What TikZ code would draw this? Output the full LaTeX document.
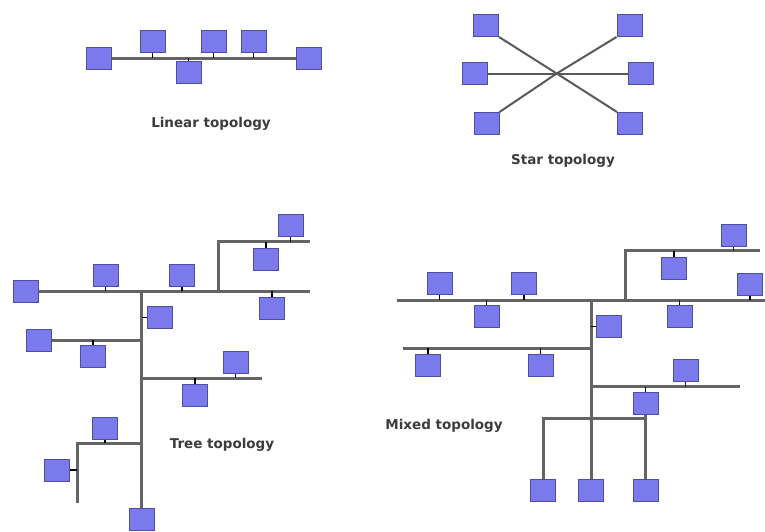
\documentclass[tikz,border=0pt]{standalone}
\usepackage{fontspec}
\setsansfont{DejaVu Sans}
\definecolor{boxfill}{RGB}{122,122,236}
\definecolor{boxedge}{RGB}{78,78,160}
\definecolor{buscol}{RGB}{100,100,100}
\definecolor{textcol}{RGB}{60,60,60}
\tikzset{line cap=butt,
  pc/.style={rectangle,draw=boxedge,fill=boxfill,line width=1pt,minimum width=25pt,minimum height=22pt,inner sep=0pt},
  bus/.style={draw=buscol,line width=3pt},
  stub/.style={draw=black,line width=1.2pt},
  spoke/.style={draw=buscol!90!black,line width=2pt},
  caption/.style={font=\sffamily\bfseries\fontsize{13.5}{15}\selectfont,text=textcol,inner sep=0pt}}

\begin{document}
\begin{tikzpicture}[x=1pt,y=-1pt]
  \useasboundingbox[fill=white] (0,0) rectangle (765,531);

  % Linear topology
  \node[pc] (la) at (98.5,58) {};
  \node[pc] (lb) at (152.5,41.5) {};
  \node[pc] (lc) at (188.5,72.5) {};
  \node[pc] (ld) at (213.5,41.5) {};
  \node[pc] (le) at (253.5,41.5) {};
  \node[pc] (lf) at (309,58) {};
  \draw[bus] (la.east) -- (lf.west);
  \foreach \n in {lb,ld,le}
    \draw[stub] (\n.south |- la.east) -- (\n.south);
  \draw[stub] (lc.north |- la.east) -- (lc.north);
  \node[caption] (lincap) at (211,124) {Linear topology};

  % Star topology
  \coordinate (hub) at (556.7,73.5);
  \node[pc] (sa) at (486,25.5) {};
  \node[pc] (sb) at (629.5,25.5) {};
  \node[pc] (sc) at (474.5,73.5) {};
  \node[pc] (sd) at (640.5,73.5) {};
  \node[pc] (se) at (486.5,123.5) {};
  \node[pc] (sf) at (630,123.5) {};
  \draw[spoke] (sa.south east) -- (hub) -- (sf.north west);
  \draw[spoke] (sb.south west) -- (hub) -- (se.north east);
  \draw[spoke] (sc.east) -- (sd.west);
  \node[caption] (starcap) at (563,161) {Star topology};

  % Tree topology
  \coordinate (tTop) at (141.7,291);
  \coordinate (tR) at (310,291);
  \coordinate (tFork) at (218.3,291);
  \coordinate (tUp) at (218.3,241.7);
  \coordinate (tUpR) at (310,241.7);
  \coordinate (tB2R) at (261.7,378.3);
  \coordinate (tB3) at (77.3,443.3);
  \coordinate (tB3End) at (77.3,503.3);
  \node[pc] (t1) at (26,291) {};
  \node[pc] (t2) at (105.5,275) {};
  \node[pc] (t3) at (182,275) {};
  \node[pc] (t4) at (290.5,225.5) {};
  \node[pc] (t5) at (266,259.5) {};
  \node[pc] (t6) at (272,308) {};
  \node[pc] (t7) at (159.5,317.5) {};
  \node[pc] (t8) at (38.5,340) {};
  \node[pc] (t9) at (93,356) {};
  \node[pc] (t10) at (235.5,362) {};
  \node[pc] (t11) at (195,395) {};
  \node[pc] (t12) at (105,428.5) {};
  \node[pc] (t13) at (56.5,470) {};
  \node[pc] (t14) at (141.7,519) {};
  \draw[bus] (t1.east) -- (tR);
  \draw[bus] (tTop) -- (t14.north);
  \draw[bus] (tFork) -- (tUp) -- (tUpR);
  \draw[bus] (t8.east) -- (t8.east -| tTop);
  \draw[bus] (tB2R -| tTop) -- (tB2R);
  \draw[bus] (tB3 -| tTop) -- (tB3) -- (tB3End);
  \draw[stub] (t2.south) -- (t2.south |- tR);
  \draw[stub] (t3.south) -- (t3.south |- tR);
  \draw[stub] (t6.north) -- (t6.north |- tR);
  \draw[stub] (t4.south) -- (t4.south |- tUpR);
  \draw[stub] (t5.north) -- (t5.north |- tUpR);
  \draw[stub] (t7.west) -- (t7.west -| tTop);
  \draw[stub] (t9.north) -- (t9.north |- t8.east);
  \draw[stub] (t10.south) -- (t10.south |- tB2R);
  \draw[stub] (t11.north) -- (t11.north |- tB2R);
  \draw[stub] (t12.south) -- (t12.south |- tB3);
  \draw[stub] (t13.east) -- (t13.east -| tB3);
  \node[caption] (treecap) at (222,445) {Tree topology};

  % Mixed topology
  \coordinate (mL) at (396.7,300);
  \coordinate (mR) at (765,300);
  \coordinate (mTop) at (591,300);
  \coordinate (mFork) at (625.7,300);
  \coordinate (mUp) at (625.7,250.7);
  \coordinate (mUpR) at (760,250.7);
  \coordinate (mB1L) at (403.3,348.3);
  \coordinate (mB2R) at (740,386.7);
  \coordinate (mB3) at (543.3,418.3);
  \node[pc] (m1) at (733.5,235) {};
  \node[pc] (m2) at (674,268.5) {};
  \node[pc] (m3) at (750,284.5) {};
  \node[pc] (m4) at (679.5,316.5) {};
  \node[pc] (m5) at (608.5,326.5) {};
  \node[pc] (m6) at (439.5,283.5) {};
  \node[pc] (m7) at (486.5,316.5) {};
  \node[pc] (m8) at (524,283.5) {};
  \node[pc] (m9) at (428,365) {};
  \node[pc] (m10) at (540.5,365) {};
  \node[pc] (m11) at (685.5,370.5) {};
  \node[pc] (m12) at (645.5,403.5) {};
  \node[pc] (m13) at (543.3,490.5) {};
  \node[pc] (m14) at (591,490.5) {};
  \node[pc] (m15) at (645.5,490.5) {};
  \draw[bus] (mL) -- (mR);
  \draw[bus] (mTop) -- (m14.north);
  \draw[bus] (mFork) -- (mUp) -- (mUpR);
  \draw[bus] (mB1L) -- (mB1L -| mTop);
  \draw[bus] (mB2R -| mTop) -- (mB2R);
  \draw[bus] (m13.north) -- (mB3) -- (mB3 -| m12.south);
  \draw[bus] (m12.south) -- (m15.north);
  \draw[stub] (m1.south) -- (m1.south |- mUpR);
  \draw[stub] (m2.north) -- (m2.north |- mUpR);
  \draw[stub] (m3.south) -- (m3.south |- mR);
  \draw[stub] (m4.north) -- (m4.north |- mR);
  \draw[stub] (m5.west) -- (m5.west -| mTop);
  \draw[stub] (m6.south) -- (m6.south |- mR);
  \draw[stub] (m7.north) -- (m7.north |- mR);
  \draw[stub] (m8.south) -- (m8.south |- mR);
  \draw[stub] (m9.north) -- (m9.north |- mB1L);
  \draw[stub] (m10.north) -- (m10.north |- mB1L);
  \draw[stub] (m11.south) -- (m11.south |- mB2R);
  \draw[stub] (m12.north) -- (m12.north |- mB2R);
  \node[caption] (mixcap) at (444,426) {Mixed topology};
\end{tikzpicture}
\end{document}
